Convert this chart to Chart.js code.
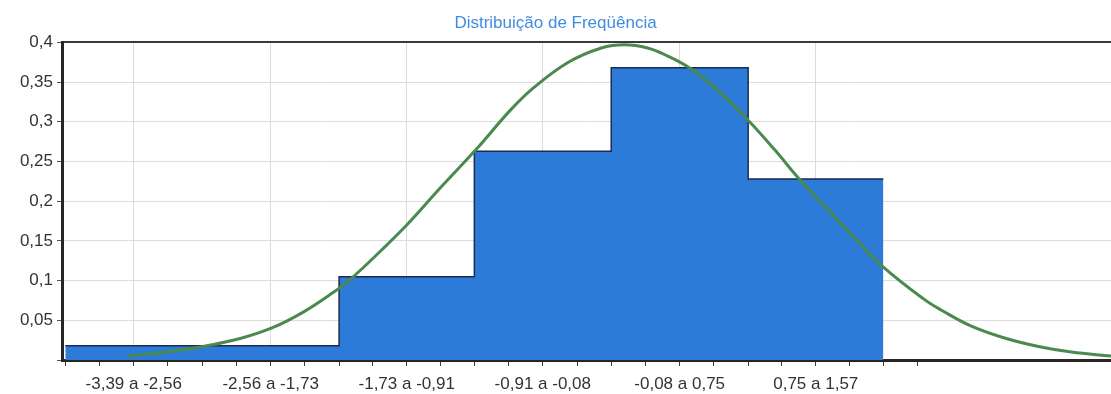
<!DOCTYPE html>
<html lang="pt-BR">
<head>
<meta charset="utf-8">
<title>Distribuição de Freqüência</title>
<script src="https://cdn.jsdelivr.net/npm/chart.js@4.4.1/dist/chart.umd.min.js"></script>
<style>
  html, body { margin: 0; padding: 0; background: #ffffff; }
  #wrap { width: 1111px; height: 394px; }
</style>
</head>
<body>
<div id="wrap"><canvas id="chart" width="1111" height="394"></canvas></div>
<script>
// Classes of the frequency distribution
const classLabels = ['-3,39 a -2,56', '-2,56 a -1,73', '-1,73 a -0,91', '-0,91 a -0,08', '-0,08 a 0,75', '0,75 a 1,57'];
const classEdges = [-3.39, -2.56, -1.73, -0.91, -0.08, 0.75, 1.57];
const relativeFreq = [0.018, 0.018, 0.105, 0.263, 0.368, 0.228];

// Fitted normal density curve (x value, density)
const curveX = [-3.01, -2.74, -2.53, -2.33, -2.13, -1.95, -1.78, -1.66, -1.48, -1.32, -1.12, -0.90, -0.69, -0.55, -0.34, -0.14, 0.00, 0.14, 0.26, 0.40, 0.57, 0.75, 0.91, 1.06, 1.23, 1.39, 1.57, 1.82, 1.92, 2.10, 2.30, 2.51, 2.71, 2.95];
const curveY = [0.005, 0.011, 0.018, 0.027, 0.041, 0.060, 0.083, 0.102, 0.137, 0.170, 0.216, 0.265, 0.315, 0.343, 0.375, 0.393, 0.397, 0.393, 0.383, 0.367, 0.339, 0.302, 0.265, 0.228, 0.190, 0.155, 0.117, 0.076, 0.063, 0.043, 0.028, 0.017, 0.010, 0.005];

// Axis settings
const xMin = -3.41, xMax = 2.95;
const yMin = 0, yMax = 0.4, yStep = 0.05;

// Step outline: each class value holds from its left edge to the next edge
const histPoints = classEdges.map((e, i) => ({ x: e, y: relativeFreq[Math.min(i, relativeFreq.length - 1)] }));
const curvePoints = curveX.map((x, i) => ({ x: x, y: curveY[i] }));

// Tick marks every quarter class, one extra past the last edge
const xTickValues = [];
for (let i = 0; i < classLabels.length; i++) {
  const w = (classEdges[i + 1] - classEdges[i]) / 4;
  for (let j = 0; j < 4; j++) xTickValues.push(classEdges[i] + j * w);
}
const lastEdge = classEdges[classEdges.length - 1];
xTickValues.push(lastEdge);
xTickValues.push(lastEdge + (lastEdge - classEdges[classEdges.length - 2]) / 4);
const isClassCenter = (idx) => idx % 4 === 2 && (idx - 2) / 4 < classLabels.length;

const fontFamily = "'Liberation Sans', Arial, sans-serif";
const dark = '#2a2424';

new Chart(document.getElementById('chart'), {
  type: 'line',
  data: {
    datasets: [
      {
        label: 'Normal',
        data: curvePoints,
        borderColor: '#4b8a4f',
        borderWidth: 3,
        pointRadius: 0,
        tension: 0.4,
        fill: false,
        order: 0
      },
      {
        label: 'Freqüência',
        data: histPoints,
        stepped: 'before',
        borderColor: '#1c2a4c',
        borderWidth: 1.5,
        backgroundColor: '#2c7bd9',
        pointRadius: 0,
        fill: 'origin',
        order: 1
      }
    ]
  },
  options: {
    responsive: false,
    animation: false,
    events: [],
    layout: { padding: 0 },
    plugins: {
      legend: { display: false },
      tooltip: { enabled: false },
      title: {
        display: true,
        text: 'Distribuição de Freqüência',
        color: '#3f8de0',
        font: { family: fontFamily, size: 17, weight: 'normal' },
        padding: { top: 13, bottom: 9 }
      }
    },
    scales: {
      x: {
        type: 'linear',
        position: 'bottom',
        min: xMin,
        max: xMax,
        afterBuildTicks: (scale) => { scale.ticks = xTickValues.map(v => ({ value: v })); },
        afterFit: (scale) => { scale.height = 34; },
        ticks: {
          autoSkip: false,
          maxRotation: 0,
          padding: 8,
          color: '#333333',
          font: { family: fontFamily, size: 17 },
          callback: (value, index) => isClassCenter(index) ? classLabels[(index - 2) / 4] : ''
        },
        grid: {
          drawOnChartArea: true,
          tickLength: 6,
          color: (ctx) => isClassCenter(ctx.index) ? '#dcdcdc' : 'rgba(0,0,0,0)',
          tickColor: '#3a3a3a',
          lineWidth: 1
        },
        border: { display: true, color: dark, width: 3 }
      },
      xTop: {
        type: 'linear',
        position: 'top',
        min: xMin,
        max: xMax,
        afterFit: (scale) => { scale.height = 0; },
        ticks: { display: false },
        grid: { display: false, drawTicks: false },
        border: { display: true, color: '#3a3a3a', width: 2 }
      },
      y: {
        type: 'linear',
        position: 'left',
        min: yMin,
        max: yMax,
        afterFit: (scale) => { scale.width = 62; },
        ticks: {
          stepSize: yStep,
          padding: 4,
          color: '#333333',
          font: { family: fontFamily, size: 17 },
          callback: (value) => value === 0 ? '' : String(Number(value.toFixed(2))).replace('.', ',')
        },
        grid: {
          color: '#dcdcdc',
          lineWidth: 1,
          tickLength: 5,
          tickColor: '#555555'
        },
        border: { display: true, color: dark, width: 3 }
      }
    }
  }
});
</script>
</body>
</html>
